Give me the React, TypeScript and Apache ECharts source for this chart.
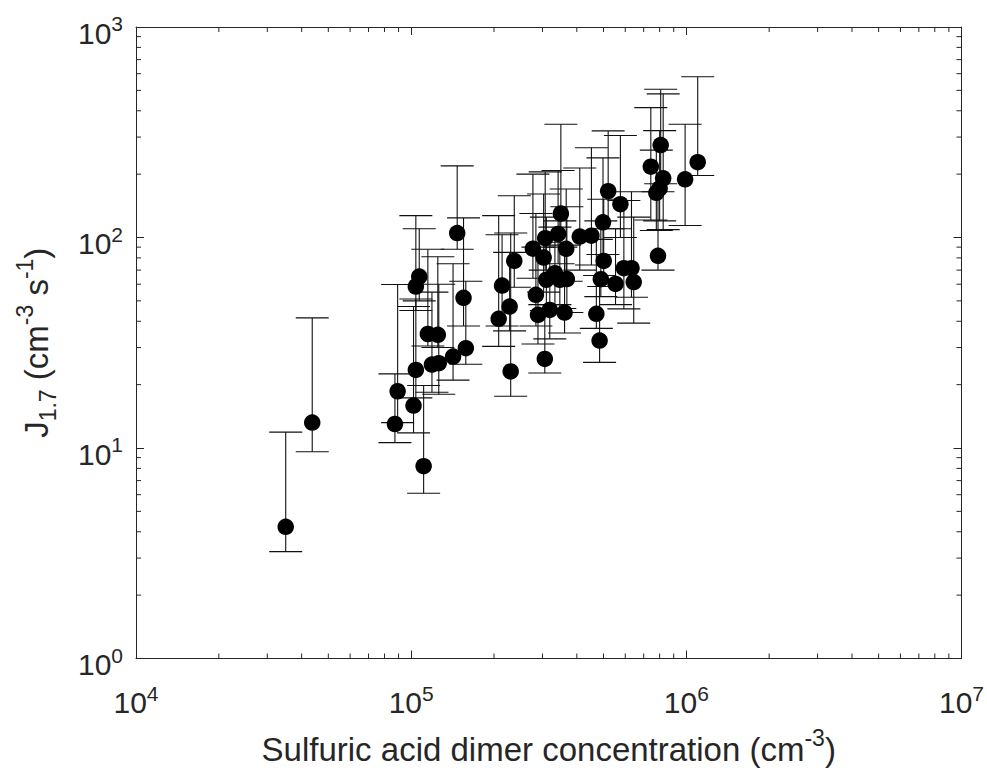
import React, { useEffect, useRef } from 'react';
import * as echarts from 'echarts';

// Sulfuric acid dimer concentration (cm^-3)
const dimerConc = [
  3.5e4, 4.37e4, 8.73e4, 8.93e4, 1.02e5, 1.04e5, 1.11e5, 1.04e5, 1.07e5, 1.15e5,
  1.25e5, 1.19e5, 1.26e5, 1.42e5, 1.47e5, 1.55e5, 1.58e5, 2.08e5, 2.14e5, 2.28e5,
  2.30e5, 2.37e5, 2.77e5, 2.84e5, 2.89e5, 3.03e5, 3.06e5, 3.07e5, 3.10e5, 3.19e5,
  3.33e5, 3.42e5, 3.47e5, 3.50e5, 3.61e5, 3.66e5, 3.68e5, 4.10e5, 4.52e5, 4.71e5,
  4.84e5, 4.89e5, 4.98e5, 5.01e5, 5.20e5, 5.53e5, 5.76e5, 5.93e5, 6.32e5, 6.44e5,
  7.43e5, 7.78e5, 7.89e5, 8.0e5, 8.07e5, 8.24e5, 9.9e5, 1.10e6,
];
// J1.7 (cm^-3 s^-1)
const jRate = [
  4.22, 13.2, 13.0, 18.6, 15.9, 23.5, 8.2, 58.5, 65.2, 34.8,
  34.5, 24.9, 25.3, 27.2, 105, 51.7, 29.8, 41.1, 59.1, 47,
  23.1, 77.4, 88.5, 53.4, 42.9, 80.3, 26.5, 99.3, 63, 45.3,
  67.7, 104, 63, 130, 44, 88.3, 63.5, 101, 102, 43.4,
  32.4, 63.4, 118, 77.4, 166, 60.2, 144, 71.5, 71.5, 61.4,
  217, 163, 81.8, 171, 275, 191, 189, 228,
];
const jLow = [
  3.22, 9.6, 10.6, 13.2, 11.8, 17.3, 6.1, 45, 50, 30.5,
  30, 18.4, 18.0, 21, 88, 38, 25, 30.4, 38, 36,
  17.6, 58, 64, 38, 31.2, 55, 22.7, 70, 45, 33,
  48, 75, 46, 90, 35.2, 62, 44, 70, 74, 37,
  25.5, 52.4, 83, 58.5, 110, 48, 100, 45.8, 52, 39.2,
  121, 108, 70, 120, 180, 109, 114, 197,
];
const jHigh = [
  11.9, 41.5, 22.5, 59.8, 47, 51, 19.8, 127, 110, 88,
  81, 55, 60, 75, 219, 124, 62, 127, 103, 85,
  105, 158, 200, 130, 90, 161, 48, 205, 125, 95,
  112, 208, 120, 345, 92, 170, 140, 214, 267, 98,
  66, 120, 239, 152, 321, 110, 305, 150, 165, 125,
  414, 260, 165, 322, 506, 481, 345, 580,
];

const xMinorTicks = [
  2e4, 3e4, 4e4, 5e4, 6e4, 7e4, 8e4, 9e4,
  2e5, 3e5, 4e5, 5e5, 6e5, 7e5, 8e5, 9e5,
  2e6, 3e6, 4e6, 5e6, 6e6, 7e6, 8e6, 9e6,
];
const yMinorTicks = [
  2, 3, 4, 5, 6, 7, 8, 9,
  20, 30, 40, 50, 60, 70, 80, 90,
  200, 300, 400, 500, 600, 700, 800, 900,
];

const FONT = '"Liberation Sans", Arial, Helvetica, sans-serif';
const TXT = '#262626';
const AXIS = '#262626';

const tickRich = {
  b: { fontSize: 30, fontFamily: FONT, color: TXT, lineHeight: 40, verticalAlign: 'middle' },
  s: { fontSize: 21, fontFamily: FONT, color: TXT, lineHeight: 21, verticalAlign: 'top' },
};
const titleRich = {
  t: { fontSize: 33, fontFamily: FONT, color: TXT, lineHeight: 46, verticalAlign: 'middle' },
  sp: { fontSize: 23, fontFamily: FONT, color: TXT, lineHeight: 23, verticalAlign: 'top' },
  sb: { fontSize: 23, fontFamily: FONT, color: TXT, lineHeight: 23, verticalAlign: 'bottom' },
};

const powLabel = (v: number) => `{b|10}{s|${Math.round(Math.log10(v))}}`;

export default function App() {
  const ref = useRef<HTMLDivElement>(null);
  useEffect(() => {
    const chart = echarts.init(ref.current!, null, { renderer: 'svg' });
    const errData = dimerConc.map((x, i) => [x, jRate[i], jLow[i], jHigh[i]]);
    const ptData = dimerConc.map((x, i) => [x, jRate[i]]);
    const lineStyle = { stroke: '#111', lineWidth: 1.1 };
    const tickStyle = { stroke: AXIS, lineWidth: 1 };

    const option: any = {
      animation: false,
      backgroundColor: '#fff',
      grid: { left: 136, top: 27, right: 25, bottom: 112, containLabel: false },
      xAxis: [
        {
          type: 'log', logBase: 10, min: 1e4, max: 1e7, splitNumber: 3,
          position: 'bottom',
          axisLine: { show: true, lineStyle: { color: AXIS, width: 1 } },
          axisTick: { show: true, inside: true, length: 8, lineStyle: { color: AXIS } },
          axisLabel: { show: true, margin: 24, formatter: powLabel, rich: tickRich },
          splitLine: { show: false },
          name: '{t|Sulfuric acid dimer concentration (cm}{sp|-3}{t|)}',
          nameLocation: 'middle', nameGap: 68,
          nameTextStyle: { rich: titleRich },
        },
        {
          type: 'log', logBase: 10, min: 1e4, max: 1e7, splitNumber: 3,
          position: 'top',
          axisLine: { show: true, lineStyle: { color: AXIS, width: 1 } },
          axisTick: { show: true, inside: true, length: 8, lineStyle: { color: AXIS } },
          axisLabel: { show: false },
          splitLine: { show: false },
        },
      ],
      yAxis: [
        {
          type: 'log', logBase: 10, min: 1, max: 1000, splitNumber: 3,
          position: 'left',
          axisLine: { show: true, lineStyle: { color: AXIS, width: 1 } },
          axisTick: { show: true, inside: true, length: 8, lineStyle: { color: AXIS } },
          axisLabel: { show: true, margin: 13, formatter: powLabel, rich: tickRich, padding: [12, 0, 0, 0] },
          splitLine: { show: false },
          name: '{t|J}{sb|1.7}{t| (cm}{sp|-3}{t| s}{sp|-1}{t|)}',
          nameLocation: 'middle', nameGap: 77, nameRotate: 90,
          nameTextStyle: { rich: titleRich },
        },
        {
          type: 'log', logBase: 10, min: 1, max: 1000, splitNumber: 3,
          position: 'right',
          axisLine: { show: true, lineStyle: { color: AXIS, width: 1 } },
          axisTick: { show: true, inside: true, length: 8, lineStyle: { color: AXIS } },
          axisLabel: { show: false },
          splitLine: { show: false },
        },
      ],
      series: [
        {
          type: 'custom',
          silent: true,
          clip: false,
          xAxisIndex: 0, yAxisIndex: 0,
          data: xMinorTicks.map((v) => [v, 1]),
          encode: { x: 0, y: 1 },
          renderItem: (params: any, api: any) => {
            const cs = params.coordSys;
            const px = api.coord([api.value(0), 1])[0];
            const yb = cs.y + cs.height;
            return {
              type: 'group',
              children: [
                { type: 'line', shape: { x1: px, y1: yb, x2: px, y2: yb - 5 }, style: tickStyle },
                { type: 'line', shape: { x1: px, y1: cs.y, x2: px, y2: cs.y + 5 }, style: tickStyle },
              ],
            };
          },
        },
        {
          type: 'custom',
          silent: true,
          clip: false,
          xAxisIndex: 0, yAxisIndex: 0,
          data: yMinorTicks.map((v) => [1e4, v]),
          encode: { x: 0, y: 1 },
          renderItem: (params: any, api: any) => {
            const cs = params.coordSys;
            const py = api.coord([1e4, api.value(1)])[1];
            const xr = cs.x + cs.width;
            return {
              type: 'group',
              children: [
                { type: 'line', shape: { x1: cs.x, y1: py, x2: cs.x + 5, y2: py }, style: tickStyle },
                { type: 'line', shape: { x1: xr, y1: py, x2: xr - 5, y2: py }, style: tickStyle },
              ],
            };
          },
        },
        {
          type: 'custom',
          silent: true,
          clip: false,
          xAxisIndex: 0, yAxisIndex: 0,
          data: errData,
          encode: { x: 0, y: 1 },
          renderItem: (params: any, api: any) => {
            const x = api.value(0);
            const pLo = api.coord([x, api.value(2)]);
            const pHi = api.coord([x, api.value(3)]);
            const hw = 16.5;
            return {
              type: 'group',
              children: [
                { type: 'line', shape: { x1: pLo[0], y1: pLo[1], x2: pHi[0], y2: pHi[1] }, style: lineStyle },
                { type: 'line', shape: { x1: pLo[0] - hw, y1: pLo[1], x2: pLo[0] + hw, y2: pLo[1] }, style: lineStyle },
                { type: 'line', shape: { x1: pHi[0] - hw, y1: pHi[1], x2: pHi[0] + hw, y2: pHi[1] }, style: lineStyle },
              ],
            };
          },
          z: 2,
        },
        {
          type: 'scatter',
          xAxisIndex: 0, yAxisIndex: 0,
          data: ptData,
          symbol: 'circle',
          symbolSize: 16.5,
          itemStyle: { color: '#000', opacity: 1 },
          z: 3,
        },
      ],
    };
    chart.setOption(option);
    return () => chart.dispose();
  }, []);
  return (
    <div
      ref={ref}
      style={{ position: 'fixed', left: 0, top: 0, width: 987, height: 771, background: '#fff' }}
    />
  );
}
